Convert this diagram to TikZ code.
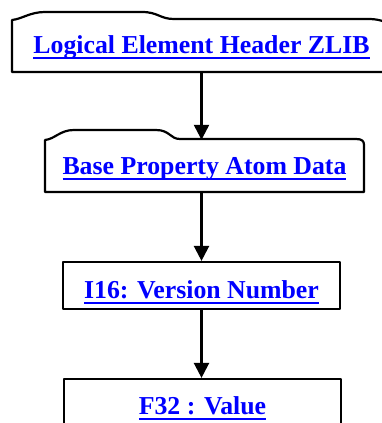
\documentclass[tikz,border=0pt]{standalone}
\usepackage{fontspec}
\setmainfont{Liberation Serif}
\usetikzlibrary{arrows.meta}
\definecolor{linkblue}{RGB}{0,0,255}
\newcommand\linktext[1]{\setbox0\hbox{#1}\rlap{\rule[-6pt]{\wd0}{2.4pt}}\box0}
\tikzset{
  boxline/.style={line width=2.2pt, line join=round},
  boxtext/.style={inner sep=0pt, anchor=base, align=center, text=linkblue,
    font=\fontsize{25.8}{30}\selectfont\bfseries},
  arr/.style={line width=2.4pt, -{Triangle[width=15pt,length=15pt]}},
}
\begin{document}
\begin{tikzpicture}[x=1pt,y=-1pt]
\useasboundingbox (0,0) rectangle (381,423);
% node boxes
\node[boxtext, minimum width=379pt, text height=33pt, text depth=19pt] (b1) at (201.5,53) {\linktext{Logical Element Header ZLIB}};
\node[boxtext, minimum width=319pt, text height=34pt, text depth=18pt] (b2) at (204.5,174) {\linktext{Base Property Atom Data}};
\node[boxtext, boxline, draw, minimum width=277pt, text height=36pt, text depth=11pt] (b3) at (201.5,298) {\linktext{I16: Version Number}};
\node[boxtext, boxline, draw, minimum width=277pt, text height=35pt, text depth=22pt] (b4) at (202.5,414) {\linktext{F32 : Value}};
% tabbed outlines
\draw[boxline] (12,72) -- (12,20) .. controls (22,19) and (30,12) .. (45,12) -- (142,12)
  .. controls (158,12) and (160,19) .. (174,19) -- (368,19) .. controls (378,19) and (385,21) .. (392,26) -- (392,72) -- cycle;
\draw[boxline] (45,192) -- (45,140) .. controls (55,139) and (60,130) .. (74,130) -- (156,130)
  .. controls (170,130) and (170,139) .. (180,139) -- (356,139) .. controls (362,139) and (364,141) .. (364,145) -- (364,192) -- cycle;
% connectors
\draw[arr] (b1.south) -- (b1.south |- b2.north);
\draw[arr] (b3.north |- b2.south) -- (b3.north);
\draw[arr] (b3.south) -- (b3.south |- b4.north);
\end{tikzpicture}
\end{document}
